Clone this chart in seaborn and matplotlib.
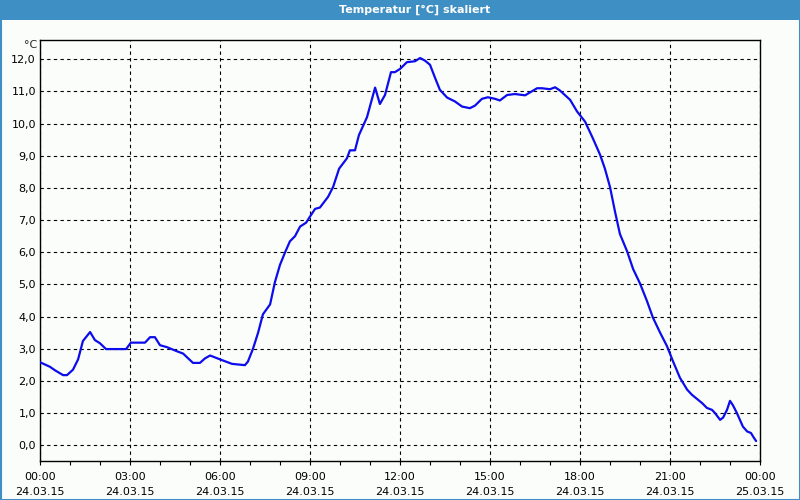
import matplotlib
matplotlib.use("Agg")
import matplotlib.pyplot as plt
from matplotlib.patches import Rectangle
from matplotlib.ticker import MultipleLocator, FixedLocator
import seaborn as sns
import pandas as pd

# time in hours since 24.03.15 00:00
hours = [0.0, 0.33, 0.5, 0.77, 0.9, 1.1, 1.27, 1.43, 1.67, 1.83, 2.0, 2.2, 2.87, 3.03,
         3.5, 3.67, 3.83, 4.0, 4.23, 4.57, 4.77, 5.1, 5.33, 5.5, 5.67, 6.0, 6.4, 6.83,
         6.93, 7.1, 7.27, 7.43, 7.67, 7.83, 8.0, 8.17, 8.33, 8.5, 8.67, 8.87, 9.0, 9.17,
         9.33, 9.6, 9.77, 9.97, 10.23, 10.33, 10.5, 10.63, 10.9, 11.17, 11.33, 11.5,
         11.7, 11.83, 12.0, 12.23, 12.5, 12.67, 12.83, 13.0, 13.17, 13.33, 13.57, 13.83,
         14.07, 14.33, 14.5, 14.73, 14.93, 15.17, 15.33, 15.57, 15.83, 16.17, 16.57,
         16.73, 17.0, 17.17, 17.33, 17.67, 17.9, 18.17, 18.43, 18.67, 18.83, 19.0, 19.17,
         19.33, 19.57, 19.77, 20.0, 20.23, 20.43, 20.67, 20.9, 21.1, 21.33, 21.57, 21.73,
         21.9, 22.07, 22.23, 22.4, 22.5, 22.67, 22.77, 22.9, 23.0, 23.1, 23.23, 23.33,
         23.43, 23.57, 23.7, 23.77, 23.87]
temperature = [2.58, 2.44, 2.33, 2.18, 2.18, 2.35, 2.67, 3.24, 3.52, 3.27, 3.17, 2.99, 2.99,
               3.19, 3.19, 3.36, 3.36, 3.11, 3.05, 2.92, 2.85, 2.56, 2.56, 2.70, 2.79, 2.67,
               2.53, 2.49, 2.6, 3.0, 3.5, 4.07, 4.38, 5.07, 5.61, 6.0, 6.34, 6.5, 6.8, 6.92,
               7.11, 7.35, 7.39, 7.72, 8.03, 8.6, 8.92, 9.17, 9.17, 9.64, 10.2, 11.12, 10.61,
               10.89, 11.6, 11.6, 11.7, 11.91, 11.94, 12.04, 11.96, 11.83, 11.42, 11.05,
               10.81, 10.69, 10.53, 10.48, 10.56, 10.77, 10.82, 10.77, 10.72, 10.89, 10.92,
               10.88, 11.1, 11.1, 11.07, 11.13, 11.03, 10.74, 10.38, 10.06, 9.54, 9.03, 8.6,
               8.03, 7.25, 6.57, 6.03, 5.48, 5.03, 4.49, 3.97, 3.5, 3.08, 2.61, 2.1, 1.73,
               1.57, 1.44, 1.31, 1.16, 1.1, 1.0, 0.79, 0.86, 1.1, 1.38, 1.24, 1.0, 0.79,
               0.58, 0.43, 0.38, 0.27, 0.13]

x_tick_hours = [0, 3, 6, 9, 12, 15, 18, 21, 24]
x_tick_labels = ["00:00\n24.03.15", "03:00\n24.03.15", "06:00\n24.03.15", "09:00\n24.03.15",
                 "12:00\n24.03.15", "15:00\n24.03.15", "18:00\n24.03.15", "21:00\n24.03.15",
                 "00:00\n25.03.15"]
y_ticks = list(range(0, 13))
y_tick_labels = [f"{v},0" for v in y_ticks]
title = "Temperatur [°C] skaliert"
unit = "°C"

df = pd.DataFrame({"h": hours, "t": temperature})

sns.set_style("white")
plt.rcParams["font.family"] = ["DejaVu Sans"]

bg = "#fbfdfb"
bar = "#3d8fc4"
fig = plt.figure(figsize=(8, 5), dpi=100, facecolor=bg)
ax = fig.add_axes([40 / 800, 1 - 461 / 500, 720 / 800, 421 / 500])
ax.set_facecolor(bg)

sns.lineplot(data=df, x="h", y="t", ax=ax, color="#0c0cec", linewidth=1.6, zorder=3)

ax.set_xlim(0, 24)
ax.set_ylim(-0.49, 12.6)
ax.xaxis.set_major_locator(FixedLocator(x_tick_hours))
ax.set_xticklabels(x_tick_labels, fontsize=8, linespacing=1.55)
ax.xaxis.set_minor_locator(MultipleLocator(1))
ax.set_yticks(y_ticks)
ax.set_yticklabels(y_tick_labels, fontsize=8)
ax.tick_params(axis="x", which="both", direction="out", length=3, width=0.8, pad=5,
               bottom=True, colors="black")
ax.tick_params(axis="y", which="both", length=0, pad=3, colors="black")
ax.set_xlabel("")
ax.set_ylabel("")
for s in ax.spines.values():
    s.set_color("black")
    s.set_linewidth(1.0)
ax.grid(True, which="major", color="black", linestyle=(0, (3, 3)), linewidth=0.8)

# unit label
fig.text(37 / 800, 1 - 45 / 500, unit, ha="right", va="center", fontsize=8)

# title bar and border
fig.patches.append(Rectangle((0, 1 - 20 / 500), 1, 20 / 500, transform=fig.transFigure,
                             facecolor=bar, edgecolor="none", zorder=0))
fig.patches.append(Rectangle((0.5 / 800, 0.5 / 500), 799 / 800, 499 / 500,
                             transform=fig.transFigure, facecolor="none",
                             edgecolor=bar, linewidth=1.5, zorder=5))
fig.text(415 / 800, 1 - 10 / 500, title, ha="center", va="center", fontsize=8,
         fontweight="bold", color="white")

fig.savefig("out.png", dpi=100, facecolor=bg)
